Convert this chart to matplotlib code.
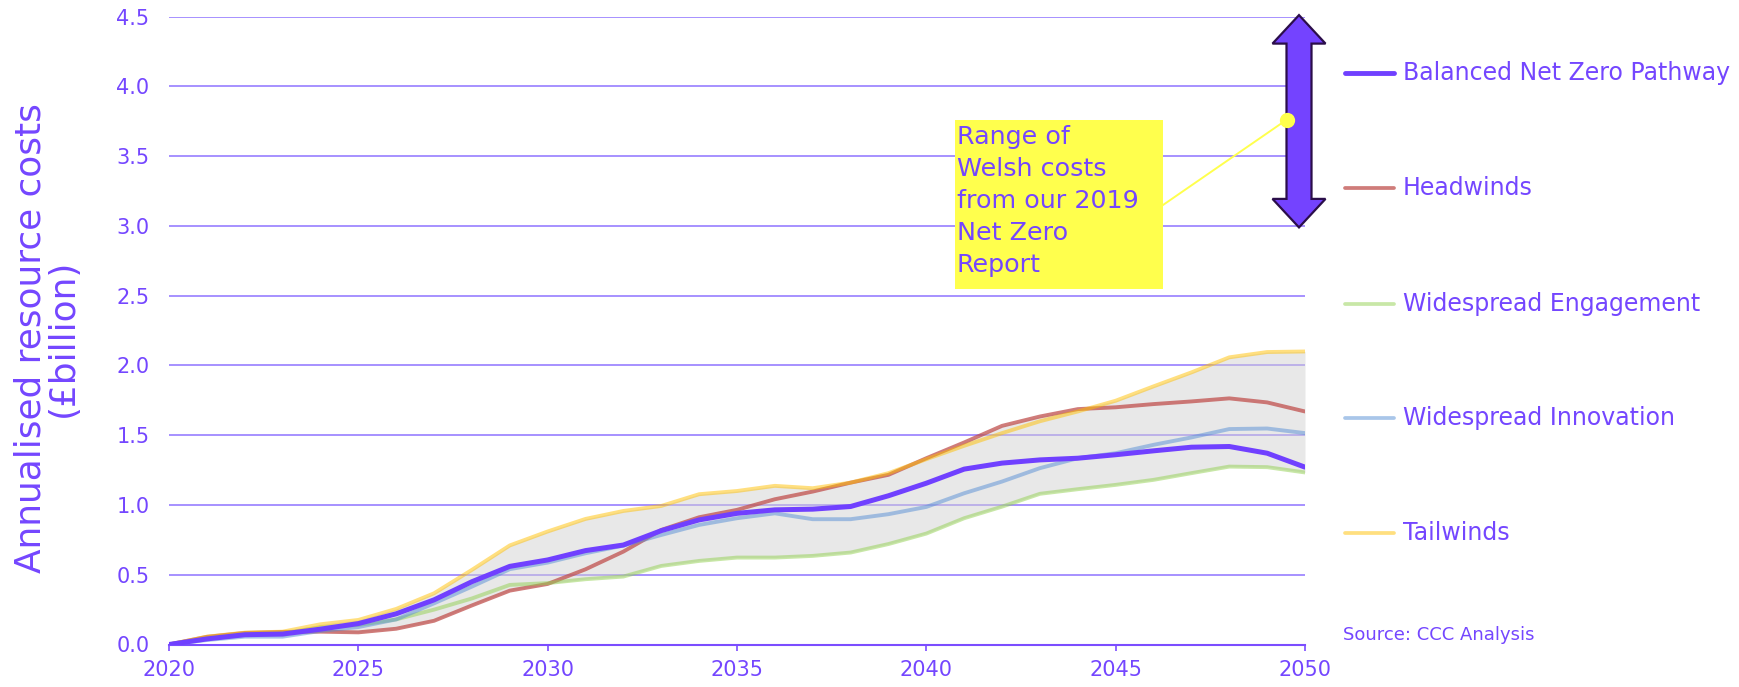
import matplotlib
matplotlib.use('Agg')
import matplotlib.pyplot as plt
import numpy as np
from matplotlib.lines import Line2D
from matplotlib.patches import Polygon, Rectangle

# ---------------- data ----------------
years = list(range(2020, 2051))
balanced = [0, 0.04, 0.07, 0.075, 0.11, 0.15, 0.22, 0.32, 0.45, 0.56, 0.606, 0.673, 0.713, 0.816, 0.893,
            0.94, 0.965, 0.97, 0.989, 1.066, 1.156, 1.257, 1.30, 1.323, 1.335, 1.36, 1.388, 1.414, 1.419,
            1.371, 1.271]
headwinds = [0, 0.055, 0.083, 0.09, 0.092, 0.087, 0.113, 0.17, 0.28, 0.386, 0.434, 0.539, 0.666, 0.821,
             0.912, 0.965, 1.041, 1.096, 1.16, 1.216, 1.335, 1.448, 1.567, 1.634, 1.687, 1.70, 1.723,
             1.742, 1.764, 1.735, 1.67]
engagement = [0, 0.045, 0.075, 0.08, 0.123, 0.14, 0.18, 0.25, 0.33, 0.427, 0.44, 0.468, 0.487, 0.563,
              0.599, 0.623, 0.623, 0.635, 0.659, 0.72, 0.795, 0.905, 0.988, 1.08, 1.113, 1.144, 1.18,
              1.228, 1.275, 1.271, 1.233]
innovation = [0, 0.032, 0.056, 0.056, 0.097, 0.125, 0.18, 0.295, 0.415, 0.54, 0.587, 0.654, 0.709, 0.785,
              0.857, 0.905, 0.94, 0.898, 0.898, 0.934, 0.986, 1.084, 1.168, 1.264, 1.335, 1.371, 1.431,
              1.484, 1.544, 1.548, 1.515]
tailwinds = [0, 0.056, 0.085, 0.092, 0.145, 0.176, 0.255, 0.367, 0.535, 0.71, 0.81, 0.90, 0.957, 0.993,
             1.077, 1.10, 1.137, 1.12, 1.16, 1.228, 1.328, 1.424, 1.515, 1.60, 1.67, 1.747, 1.85, 1.95,
             2.058, 2.096, 2.10]
series_names = ["Balanced Net Zero Pathway", "Headwinds", "Widespread Engagement",
                "Widespread Innovation", "Tailwinds"]
range_2019 = [3.0, 4.5]          # range of Welsh costs from 2019 Net Zero report
range_marker_value = 3.76
yticks = [0.0, 0.5, 1.0, 1.5, 2.0, 2.5, 3.0, 3.5, 4.0, 4.5]
xticks = [2020, 2025, 2030, 2035, 2040, 2045, 2050]
ylabel = "Annualised resource costs\n(£billion)"
note_text = "Range of\nWelsh costs\nfrom our 2019\nNet Zero\nReport"
source_text = "Source: CCC Analysis"

# ---------------- style ----------------
TXT = '#7446FF'
GRID = '#9F88FF'
PURPLE = '#7040FF'
styles = [
    dict(color=PURPLE, lw=3.6, alpha=1.0, z=8),
    dict(color='#C0504D', lw=2.8, alpha=0.75, z=4),
    dict(color='#92D050', lw=2.8, alpha=0.5, z=5),
    dict(color='#558ED5', lw=2.8, alpha=0.5, z=6),
    dict(color='#FFC000', lw=2.8, alpha=0.5, z=7),
]
plt.rcParams['font.family'] = ['DejaVu Sans']

W, H = 1739, 687
fig = plt.figure(figsize=(W / 100, H / 100), dpi=100)
ax_l, ax_r, ax_t, ax_b = 169, 1305, 16.6, 644.5
ax = fig.add_axes([ax_l / W, 1 - ax_b / H, (ax_r - ax_l) / W, (ax_b - ax_t) / H])
ax.set_xlim(2020, 2050)
ax.set_ylim(0, 4.5)

all_series = [balanced, headwinds, engagement, innovation, tailwinds]
arr = np.array(all_series)
ax.fill_between(years, arr.min(axis=0), arr.max(axis=0), color='#D2D2D2', alpha=0.5, lw=0, zorder=2)
for s, st in zip(all_series, styles):
    ax.plot(years, s, color=st['color'], lw=st['lw'], alpha=st['alpha'], zorder=st['z'],
            solid_capstyle='round', solid_joinstyle='round')

ax.set_yticks(yticks)
ax.set_yticklabels([f"{v:.1f}" for v in yticks])
ax.set_xticks(xticks)
ax.yaxis.grid(True, color=GRID, lw=1.3, zorder=0)
ax.set_axisbelow(True)
for sp in ['top', 'right', 'left']:
    ax.spines[sp].set_visible(False)
ax.spines['bottom'].set_color('#7B4DFF')
ax.spines['bottom'].set_linewidth(1.5)
ax.tick_params(axis='x', length=4.5, width=1.2, color='#7B4DFF', labelsize=15, labelcolor=TXT, pad=7)
ax.tick_params(axis='y', length=0, labelsize=15, labelcolor=TXT, pad=14)

# ---------------- 2019 range arrow ----------------
px_per_year = (ax_r - ax_l) / 30.0
px_per_unit = (ax_b - ax_t) / 4.5
cx = 2050 - 6.0 / px_per_year
bhw = 12.5 / px_per_year
hhw = 26.5 / px_per_year
hl = 27.0 / px_per_unit
lo, hi = range_2019
tip = 1.5 / px_per_unit
verts = [(cx, hi + tip), (cx + hhw, hi - hl), (cx + bhw, hi - hl), (cx + bhw, lo + hl), (cx + hhw, lo + hl),
         (cx, lo - tip), (cx - hhw, lo + hl), (cx - bhw, lo + hl), (cx - bhw, hi - hl), (cx - hhw, hi - hl)]
ax.add_patch(Polygon(verts, closed=True, facecolor='#7443FF', edgecolor='#2B0E4A', lw=1.6,
                     zorder=10, clip_on=False, joinstyle='miter'))

# annotation box
YEL = '#FFFF4D'
bx0 = 2020 + (955 - ax_l) / px_per_year
bx1 = 2020 + (1163 - ax_l) / px_per_year
by0, by1 = (ax_b - 289) / px_per_unit, (ax_b - 120) / px_per_unit
ax.add_patch(Rectangle((bx0, by0), bx1 - bx0, by1 - by0, facecolor=YEL, edgecolor='none', zorder=11))
ax.text(bx0 + 0.05, by1 - 0.035, note_text, fontsize=18.3, color=TXT, va='top', ha='left',
        linespacing=1.42, zorder=12)
ax.plot([bx1, cx - bhw], [(ax_b - 205) / px_per_unit, range_marker_value], color=YEL, lw=1.4,
        zorder=11, clip_on=False)
ax.plot([cx - bhw], [range_marker_value], 'o', color=YEL, ms=11, mec='none', zorder=12, clip_on=False)

# ---------------- y label ----------------
fig.text(47 / W, 1 - 338 / H, ylabel, rotation=90, ha='center', va='center', multialignment='center',
         fontsize=25.8, color=TXT, linespacing=0.95)

# ---------------- legend ----------------
rows = [73, 188, 304, 418, 533]
for name, st, ry in zip(series_names, styles, rows):
    yy = 1 - ry / H
    lw = 3.5 if st['z'] == 8 else 2.7
    fig.add_artist(Line2D([1345 / W, 1394 / W], [yy, yy], transform=fig.transFigure,
                          color=st['color'], alpha=st['alpha'], lw=lw, solid_capstyle='round'))
    fig.text(1403 / W, yy, name, fontsize=17, color=TXT, va='center', ha='left')
fig.text(1343 / W, 1 - 635 / H, source_text, fontsize=13, color=TXT, va='center', ha='left')

fig.savefig('out.png', dpi=100)
